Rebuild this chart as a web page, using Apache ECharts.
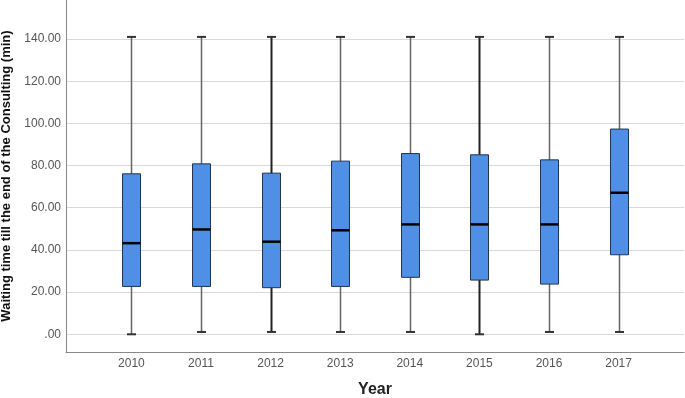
<!DOCTYPE html>
<html>
<head>
<meta charset="utf-8">
<script src="https://cdn.jsdelivr.net/npm/echarts@6/dist/echarts.min.js"></script>
<style>
  html, body { margin: 0; padding: 0; background: #fff; }
  #chart { width: 685px; height: 398px; }
</style>
</head>
<body>
<div id="chart"></div>
<script>
// years on the x axis
var years = ["2010", "2011", "2012", "2013", "2014", "2015", "2016", "2017"];
// box statistics, one entry per year
var minValues    = [0.0, 1.1, 1.1, 1.1, 1.1, 0.0, 1.1, 1.1];
var q1Values     = [22.7, 22.7, 22.1, 22.7, 27.0, 25.7, 23.8, 37.7];
var medianValues = [43.2, 49.7, 43.9, 49.3, 52.1, 52.1, 52.1, 67.1];
var q3Values     = [76.1, 80.8, 76.4, 82.1, 85.7, 85.1, 82.7, 97.3];
var maxValues    = [141.0, 141.0, 141.0, 141.0, 141.0, 141.0, 141.0, 141.0];
// tick labels
var yTicks = [0, 20, 40, 60, 80, 100, 120, 140];
var xTicks = [0, 1, 2, 3, 4, 5, 6, 7];

var boxData = years.map(function (y, i) {
  return [i, minValues[i], q1Values[i], medianValues[i], q3Values[i], maxValues[i]];
});

function renderBox(params, api) {
  var i = api.value(0);
  var pMin = api.coord([i, api.value(1)]);
  var pQ1 = api.coord([i, api.value(2)]);
  var pMed = api.coord([i, api.value(3)]);
  var pQ3 = api.coord([i, api.value(4)]);
  var pMax = api.coord([i, api.value(5)]);
  var x = Math.round(pMed[0]) + 0.5;
  var half = 9;
  var cap = 4.5;
  var dark = (i === 2 || i === 5);
  var wColor = dark ? "#222" : "#666";
  var wWidth = dark ? 2 : 1.5;
  return {
    type: "group",
    children: [
      { type: "line", shape: { x1: x, y1: pMax[1], x2: x, y2: pMin[1] },
        style: { stroke: wColor, lineWidth: wWidth } },
      { type: "line", shape: { x1: x - cap, y1: pMax[1], x2: x + cap, y2: pMax[1] },
        style: { stroke: "#333", lineWidth: 2 } },
      { type: "line", shape: { x1: x - cap, y1: pMin[1], x2: x + cap, y2: pMin[1] },
        style: { stroke: "#333", lineWidth: 2 } },
      { type: "rect", shape: { x: x - half, y: pQ3[1], width: half * 2, height: pQ1[1] - pQ3[1] },
        style: { fill: "#4f8fe6", stroke: "#22354f", lineWidth: 1 } },
      { type: "line", shape: { x1: x - half, y1: pMed[1], x2: x + half, y2: pMed[1] },
        style: { stroke: "#000", lineWidth: 2.5 } }
    ]
  };
}

var chart = echarts.init(document.getElementById("chart"));
chart.setOption({
  animation: false,
  backgroundColor: "#fff",
  grid: { left: 66, right: 1, top: 0, bottom: 46, containLabel: false, outerBoundsMode: "none" },
  xAxis: {
    type: "value",
    min: -0.94,
    max: 7.94,
    name: "Year",
    nameLocation: "middle",
    nameGap: 30,
    nameTextStyle: { fontFamily: "Liberation Sans", fontSize: 16, fontWeight: "bold", color: "#222" },
    axisLine: { show: true, onZero: false, lineStyle: { color: "#888", width: 1 } },
    axisTick: { show: false, customValues: xTicks },
    splitLine: { show: false },
    axisLabel: {
      customValues: xTicks,
      margin: 6,
      fontFamily: "Liberation Sans",
      fontSize: 12,
      color: "#555",
      formatter: function (v) { return years[Math.round(v)]; }
    }
  },
  yAxis: {
    type: "value",
    min: -8.4,
    max: 158.5,
    name: "Waiting time till the end of the Consulting (min)",
    nameLocation: "middle",
    nameGap: 49,
    nameTextStyle: { fontFamily: "Liberation Sans", fontSize: 13, fontWeight: "bold", color: "#111" },
    axisLine: { show: true, onZero: false, lineStyle: { color: "#888", width: 1 } },
    axisTick: { show: false, customValues: yTicks },
    splitLine: { show: true, lineStyle: { color: "#d9d9d9", width: 1 } },
    axisLabel: {
      customValues: yTicks,
      margin: 5,
      fontFamily: "Liberation Sans",
      fontSize: 12,
      color: "#555",
      formatter: function (v) { return v === 0 ? ".00" : v.toFixed(2); }
    }
  },
  series: [{
    type: "custom",
    renderItem: renderBox,
    data: boxData,
    encode: { x: 0, y: [1, 2, 3, 4, 5] }
  }]
});
</script>
</body>
</html>
